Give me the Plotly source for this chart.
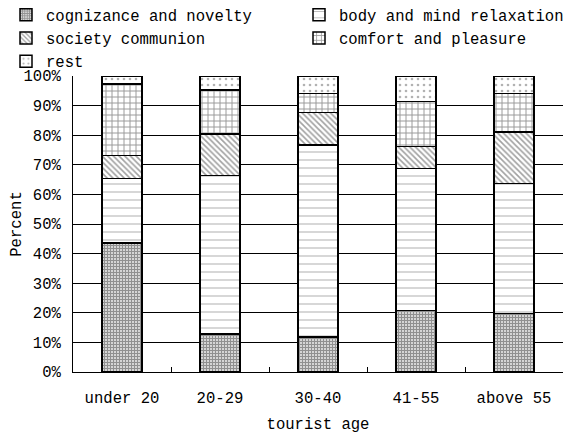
import plotly.graph_objects as go

categories = ["under 20", "20-29", "30-40", "41-55", "above 55"]
cognizance = [43.5, 12.8, 11.9, 20.8, 19.8]
body_mind = [21.8, 53.6, 64.8, 48.0, 43.9]
society = [7.9, 14.0, 11.0, 7.3, 17.3]
comfort = [24.1, 14.9, 6.4, 15.3, 13.1]
rest = [2.7, 4.7, 5.9, 8.6, 5.9]

series = [
    ("cognizance and novelty", cognizance, dict(shape="+", fgcolor="#222", bgcolor="#fff", size=3, solidity=0.7), "legend"),
    ("body and mind relaxation", body_mind, dict(shape="-", fgcolor="#777", bgcolor="#fff", size=8, solidity=0.15), "legend2"),
    ("society communion", society, dict(shape="\\", fgcolor="#444", bgcolor="#fff", size=4, solidity=0.4), "legend"),
    ("comfort and pleasure", comfort, dict(shape="+", fgcolor="#333", bgcolor="#fff", size=6, solidity=0.3), "legend2"),
    ("rest", rest, dict(shape=".", fgcolor="#666", bgcolor="#fff", size=6, solidity=0.15), "legend"),
]

font = "Liberation Mono"
fs = 15.6
fig = go.Figure()
for name, vals, pat, lg in series:
    fig.add_trace(go.Bar(
        x=categories, y=vals, name=name, legend=lg,
        marker=dict(color="white", line=dict(color="black", width=1.5), pattern=pat),
        width=0.41,
    ))

W, H = 567, 426
L, T, PW, PH = 65, 68, 490, 296
legend_common = dict(
    orientation="v", xanchor="left", yanchor="top",
    itemwidth=30, font=dict(family=font, size=fs), traceorder="normal",
    bgcolor="rgba(0,0,0,0)", tracegroupgap=0,
)
fig.update_layout(
    barmode="stack",
    width=W, height=H,
    margin=dict(l=L, r=W - L - PW, t=T, b=H - T - PH, autoexpand=False),
    paper_bgcolor="white", plot_bgcolor="white",
    font=dict(family=font, size=fs, color="black"),
    legend=dict(x=(-2 - L) / PW, y=1 + (T + 10) / PH, **legend_common),
    legend2=dict(x=(291 - L) / PW, y=1 + (T + 10) / PH, **legend_common),
)
fig.update_yaxes(
    range=[0, 100], tickvals=list(range(0, 101, 10)),
    ticktext=[f"{v}%" for v in range(0, 101, 10)],
    showgrid=True, gridcolor="black", gridwidth=1,
    showline=True, linecolor="black", linewidth=1,
    ticks="inside", ticklen=4, tickcolor="black",
    title=dict(text="Percent", font=dict(family=font, size=fs), standoff=9),
    tickfont=dict(family=font, size=fs), ticklabelstandoff=8,
)
fig.update_xaxes(
    showline=True, linecolor="black", linewidth=1,
    tickson="boundaries", ticks="inside", ticklen=5, tickcolor="black",
    title=dict(text="tourist age", font=dict(family=font, size=fs), standoff=14),
    tickfont=dict(family=font, size=fs), ticklabelstandoff=11,
)
fig.write_html("out.html")
